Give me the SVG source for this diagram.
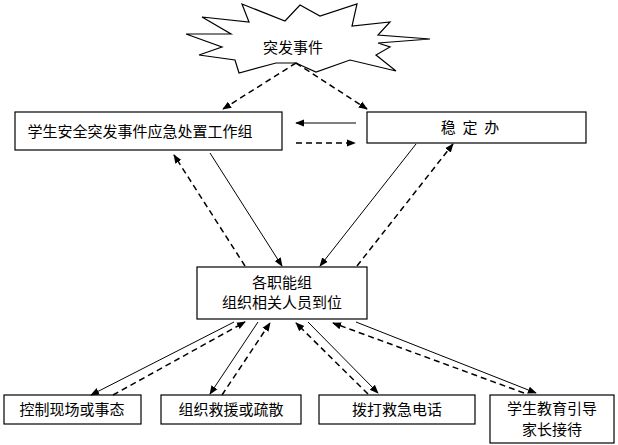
<svg xmlns="http://www.w3.org/2000/svg" width="618" height="445" viewBox="0 0 618 445">
<style>
text{font-family:"Noto Sans CJK SC","Noto Sans",sans-serif;font-size:15px;fill:#000;text-anchor:middle}
.b{fill:#fff;stroke:#000;stroke-width:1.2}
.s{stroke:#000;stroke-width:1;fill:none;marker-end:url(#a)}
.d{stroke:#000;stroke-width:1.5;fill:none;stroke-dasharray:6 4;marker-end:url(#a)}
</style>
<defs><marker id="a" viewBox="0 0 10 10" refX="9" refY="5" markerWidth="9" markerHeight="9" markerUnits="userSpaceOnUse" orient="auto"><path d="M0,1 L10,5 L0,9 Z" fill="#000"/></marker></defs>
<rect width="618" height="445" fill="#fff"/>
<g id="star"><polygon class="b" points="242,4 249,22 202,17 231,34 186,34 222,47 199,55 235,60 239,73 276,63 296,63 316,72 350,60 396,71 376,55 390,47 378,43 430,39 378,35 390,22 352,26 357,4 320,16 300,5 285,21"/><text x="293" y="53" font-size="18">突发事件</text></g>
<g id="work"><rect class="b" x="15" y="112" width="267" height="38"/><text x="140" y="137">学生安全突发事件应急处置工作组</text></g>
<g id="wending"><rect class="b" x="367" y="112" width="219" height="31"/><text x="470" y="133" xml:space="preserve">稳  定  办</text></g>
<g id="mid"><rect class="b" x="197" y="267" width="170" height="52"/><text x="282" y="288">各职能组</text><text x="282" y="308">组织相关人员到位</text></g>
<g id="b1"><rect class="b" x="4" y="395" width="137" height="29"/><text x="72" y="415">控制现场或事态</text></g>
<g id="b2"><rect class="b" x="161" y="395" width="140" height="29"/><text x="231" y="415">组织救援或疏散</text></g>
<g id="b3"><rect class="b" x="319" y="395" width="156" height="29"/><text x="397" y="415">拨打救急电话</text></g>
<g id="b4"><rect class="b" x="490" y="395" width="124" height="48"/><text x="552" y="414">学生教育引导</text><text x="552" y="435">家长接待</text></g>
<g id="connectors">
<line class="d" x1="296" y1="63" x2="223" y2="109"/>
<line class="d" x1="296" y1="63" x2="367" y2="109"/>
<line class="s" x1="356" y1="123" x2="296" y2="123"/>
<line class="d" x1="296" y1="143" x2="355" y2="143"/>
<line class="s" x1="210" y1="153" x2="282" y2="266"/>
<line class="d" x1="245" y1="266" x2="174" y2="155"/>
<line class="s" x1="416" y1="144" x2="320" y2="266"/>
<line class="d" x1="357" y1="266" x2="453" y2="144"/>
<line class="s" x1="234" y1="322" x2="91" y2="395"/>
<line class="d" x1="113" y1="395" x2="245" y2="322"/>
<line class="s" x1="258" y1="322" x2="210" y2="394"/>
<line class="d" x1="222" y1="395" x2="270" y2="323"/>
<line class="d" x1="368" y1="394" x2="296" y2="323"/>
<line class="s" x1="308" y1="322" x2="378" y2="393"/>
<line class="d" x1="524" y1="393" x2="333" y2="323"/>
<line class="s" x1="356" y1="322" x2="536" y2="393"/>
</g>
</svg>
